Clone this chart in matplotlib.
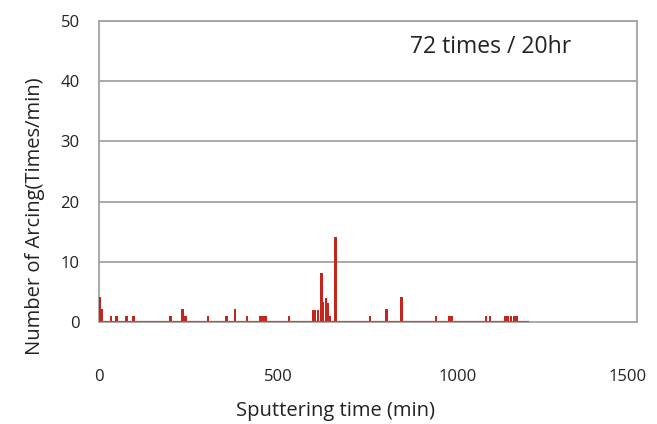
import matplotlib
matplotlib.use("Agg")
import matplotlib.pyplot as plt
from matplotlib.transforms import ScaledTranslation

plt.rcParams['font.family'] = ['Open Sans', 'DejaVu Sans']

# arcing events: sputtering time (min) and count (times/min)
times = [3, 8, 33, 49, 77, 96, 200, 233, 241, 304, 356, 379, 412,
         450, 458, 466, 530, 596, 602, 611, 621, 624, 633, 639, 644, 660,
         755, 802, 844, 939, 976, 983, 1079, 1090, 1133, 1140, 1148, 1158, 1165]
counts = [4.2, 2.2, 1, 1, 1, 1, 1, 2.2, 1, 1, 1, 2.2, 1,
          1, 1, 1, 1, 2, 2, 2, 8.1, 3.4, 4, 3.2, 1, 14.2,
          1, 2.2, 4.2, 1, 1, 1, 1, 1, 1, 1, 1, 1, 1]
run_end = 1200
annotation = "72 times / 20hr"

x_ticks = [0, 500, 1000, 1500]
y_ticks = [0, 10, 20, 30, 40, 50]

fig = plt.figure(figsize=(6.57, 4.24), dpi=100)
ax = fig.add_axes([0.1507, 0.2406, 0.8189, 0.7099])

grid_c = '#a3a3a3'
red = '#c4261b'

for y in y_ticks[1:]:
    ax.axhline(y, color=grid_c, linewidth=1.3, zorder=1)

ax.bar(times, counts, width=7, color=red, linewidth=0, zorder=3)
ax.plot([0, run_end], [0, 0], color='#d2452a', linewidth=1.6, zorder=4,
        solid_capstyle='butt')

ax.set_xlim(0, 1500)
ax.set_ylim(0, 50)
ax.set_xticks(x_ticks)
ax.set_yticks(y_ticks)
ax.tick_params(axis='x', length=0, pad=34, labelsize=12, labelcolor='#222222')
ax.tick_params(axis='y', length=0, pad=14, labelsize=12, labelcolor='#222222')

# last x label sits pulled in from the edge, as in the original
lbl = ax.get_xticklabels()[-1]
lbl.set_transform(lbl.get_transform() + ScaledTranslation(-9 / 100, 0, fig.dpi_scale_trans))

for side in ['left', 'right', 'top', 'bottom']:
    ax.spines[side].set_color(grid_c)
    ax.spines[side].set_linewidth(1.3)

ax.set_xlabel("Sputtering time (min)", fontsize=14.5, color='#222222')
ax.xaxis.set_label_coords(0.44, -0.262)
ax.set_ylabel("Number of Arcing(Times/min)", fontsize=14.5, color='#222222')
ax.yaxis.set_label_coords(-0.1, 0.352)

ax.text(0.727, 0.912, annotation, transform=ax.transAxes, fontsize=16.5,
        color='#222222', ha='center', va='center')

fig.savefig("out.png", dpi=100, facecolor='white')
